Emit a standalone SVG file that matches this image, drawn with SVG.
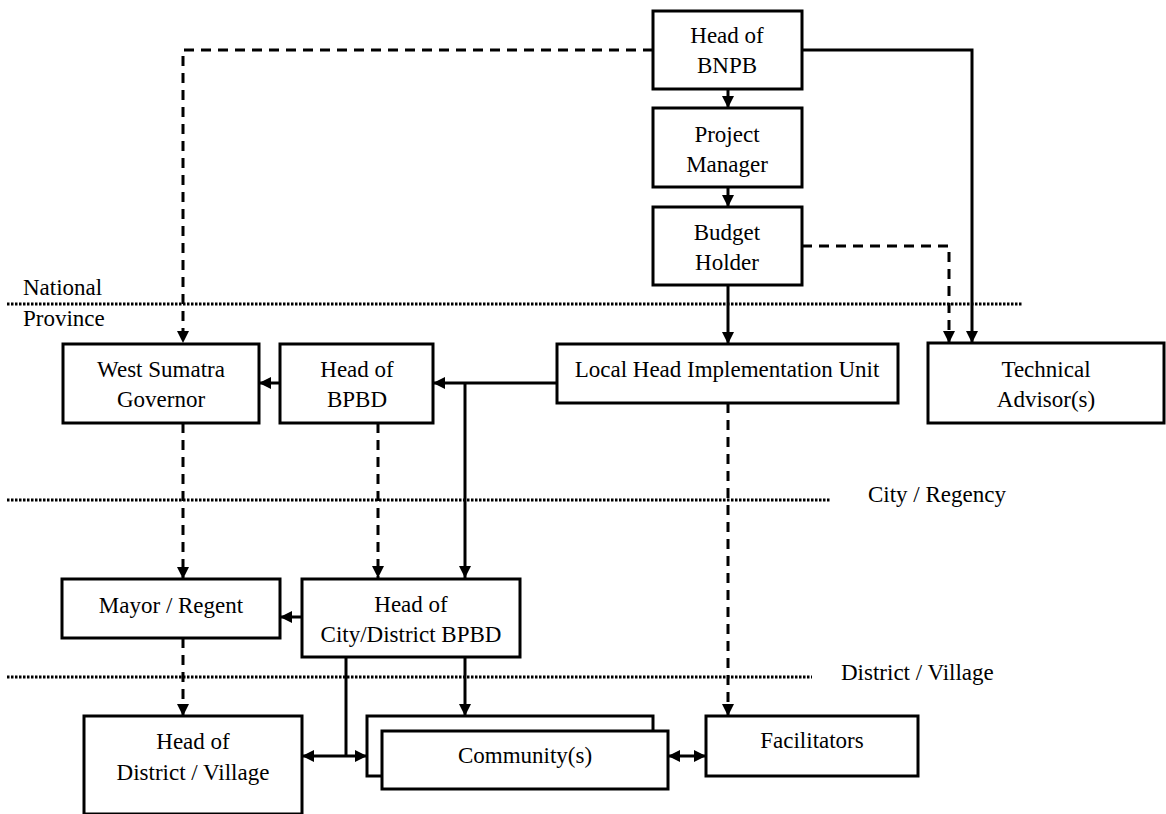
<svg xmlns="http://www.w3.org/2000/svg" width="1166" height="814" viewBox="0 0 1166 814">
<style>
.box{fill:#fff;stroke:#000;stroke-width:3}
.t{font-family:"Liberation Serif","Times New Roman",serif;font-size:23px;fill:#000;text-anchor:middle}
.lbl{font-family:"Liberation Serif","Times New Roman",serif;font-size:23px;fill:#000}
.solid{fill:none;stroke:#000;stroke-width:3}
.dash{fill:none;stroke:#000;stroke-width:3;stroke-dasharray:10 7}
.dot{fill:none;stroke:#000;stroke-width:3;stroke-dasharray:2.5 1.5}
</style>
<defs>
<marker id="ah" markerUnits="userSpaceOnUse" markerWidth="12" markerHeight="12" viewBox="0 0 12 12" refX="12" refY="6" orient="auto">
<path d="M0,0 L12,6 L0,12 Z" fill="#000"/>
</marker>
<marker id="as" markerUnits="userSpaceOnUse" markerWidth="12" markerHeight="12" viewBox="0 0 12 12" refX="0" refY="6" orient="auto">
<path d="M12,0 L0,6 L12,12 Z" fill="#000"/>
</marker>
</defs>
<g id="levels">
<path class="dot" d="M7,304 H1023"/>
<path class="dot" d="M7,500 H830"/>
<path class="dot" d="M7,677 H812"/>
<text class="lbl" x="23" y="295">National</text>
<text class="lbl" x="23" y="326">Province</text>
<text class="lbl" x="868" y="502">City / Regency</text>
<text class="lbl" x="841" y="680">District / Village</text>
</g>
<g id="connectors">
<path class="dash" d="M653,50 H183 V343" marker-end="url(#ah)"/>
<path class="solid" d="M802,50 H972 V343" marker-end="url(#ah)"/>
<path class="dash" d="M802,246 H949 V343" marker-end="url(#ah)"/>
<path class="solid" d="M728,89 V108" marker-end="url(#ah)"/>
<path class="solid" d="M728,187 V207" marker-end="url(#ah)"/>
<path class="solid" d="M728,285 V344" marker-end="url(#ah)"/>
<path class="solid" d="M557,383 H433" marker-end="url(#ah)"/>
<path class="solid" d="M280,383 H259" marker-end="url(#ah)"/>
<path class="solid" d="M465,383 V578" marker-end="url(#ah)"/>
<path class="dash" d="M183,423 V579" marker-end="url(#ah)"/>
<path class="dash" d="M378,423 V578" marker-end="url(#ah)"/>
<path class="dash" d="M728,403 V716" marker-end="url(#ah)"/>
<path class="solid" d="M302,617 H280" marker-end="url(#ah)"/>
<path class="dash" d="M183,638 V716" marker-end="url(#ah)"/>
<path class="solid" d="M465,657 V716" marker-end="url(#ah)"/>
<path class="solid" d="M346,657 V756"/>
<path class="solid" d="M302,756 H367" marker-start="url(#as)" marker-end="url(#ah)"/>
<path class="solid" d="M668,756 H706" marker-start="url(#as)" marker-end="url(#ah)"/>
</g>
<g id="head-bnpb">
<rect class="box" x="653" y="11" width="149" height="78"/>
<text class="t" x="727" y="43">Head of</text>
<text class="t" x="727" y="73">BNPB</text>
</g>
<g id="project-manager">
<rect class="box" x="653" y="108" width="149" height="79"/>
<text class="t" x="727" y="142">Project</text>
<text class="t" x="727" y="172">Manager</text>
</g>
<g id="budget-holder">
<rect class="box" x="653" y="207" width="149" height="78"/>
<text class="t" x="727" y="240">Budget</text>
<text class="t" x="727" y="270">Holder</text>
</g>
<g id="local-head">
<rect class="box" x="557" y="344" width="341" height="59"/>
<text class="t" x="727" y="377">Local Head Implementation Unit</text>
</g>
<g id="technical-advisor">
<rect class="box" x="928" y="343" width="236" height="80"/>
<text class="t" x="1046" y="377">Technical</text>
<text class="t" x="1046" y="407">Advisor(s)</text>
</g>
<g id="governor">
<rect class="box" x="63" y="344" width="196" height="79"/>
<text class="t" x="161" y="377">West Sumatra</text>
<text class="t" x="161" y="407">Governor</text>
</g>
<g id="head-bpbd">
<rect class="box" x="280" y="344" width="153" height="79"/>
<text class="t" x="357" y="377">Head of</text>
<text class="t" x="357" y="407">BPBD</text>
</g>
<g id="mayor">
<rect class="box" x="62" y="579" width="218" height="59"/>
<text class="t" x="171" y="613">Mayor / Regent</text>
</g>
<g id="city-bpbd">
<rect class="box" x="302" y="579" width="218" height="78"/>
<text class="t" x="411" y="612">Head of</text>
<text class="t" x="411" y="642">City/District BPBD</text>
</g>
<g id="head-district">
<rect class="box" x="84" y="716" width="218" height="98"/>
<text class="t" x="193" y="749">Head of</text>
<text class="t" x="193" y="780">District / Village</text>
</g>
<g id="community">
<rect class="box" x="367" y="716" width="286" height="60"/>
<rect class="box" x="382" y="731" width="286" height="58"/>
<text class="t" x="525" y="763">Community(s)</text>
</g>
<g id="facilitators">
<rect class="box" x="706" y="716" width="212" height="60"/>
<text class="t" x="812" y="748">Facilitators</text>
</g>
</svg>
